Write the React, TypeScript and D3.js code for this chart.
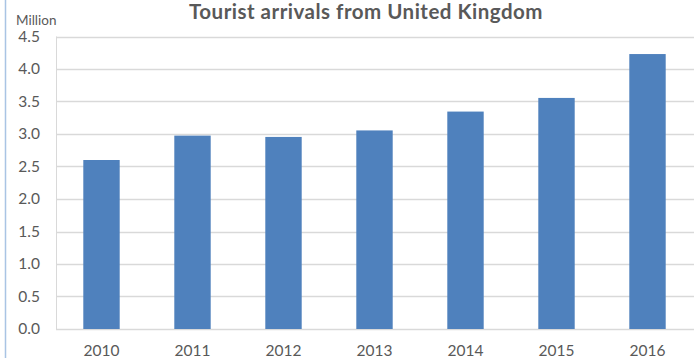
import React from "react";
import * as d3 from "d3";

const years = ["2010", "2011", "2012", "2013", "2014", "2015", "2016"];
const arrivals = [2.6, 2.975, 2.955, 3.055, 3.345, 3.555, 4.23];
const yTicks = [0, 0.5, 1, 1.5, 2, 2.5, 3, 3.5, 4, 4.5];
const title = "Tourist arrivals from United Kingdom";
const unitLabel = "Million";

const W = 694;
const H = 358;
const FONT = "Lato, 'Open Sans', sans-serif";

export default function App() {
  const x = d3.scaleBand<string>().domain(years).range([56, 693]).paddingInner(0.6).paddingOuter(0.3);
  const y = d3.scaleLinear().domain([0, 4.5]).range([329, 36.5]);
  const grid = "#d9d9d9";
  const txt = "#595959";
  return (
    <svg width={W} height={H} style={{ position: "absolute", left: 0, top: 0, background: "#fff" }}>
      <rect x={0} y={0} width={W} height={H} fill="#fff" />
      <line x1={5.5} x2={5.5} y1={0} y2={H} stroke="#a9c4e4" strokeWidth={1.5} />
      {yTicks.map((t) => (
        <g key={t}>
          <line x1={56} x2={W} y1={Math.round(y(t)) + 0.5} y2={Math.round(y(t)) + 0.5} stroke={grid} strokeWidth={1.5} />
          <text x={40} y={y(t)} dy="0.35em" textAnchor="end" fontFamily={FONT} fontSize={15.5} fill={txt}>
            {t.toFixed(1)}
          </text>
        </g>
      ))}
      <line x1={56.5} x2={56.5} y1={y(4.5)} y2={y(0)} stroke={grid} strokeWidth={1} />
      {years.map((yr, i) => (
        <g key={yr}>
          <rect
            x={x(yr)}
            y={y(arrivals[i])}
            width={x.bandwidth()}
            height={y(0) - y(arrivals[i])}
            fill="#4f81bd"
          />
          <text
            x={(x(yr) ?? 0) + x.bandwidth() / 2}
            y={355.5}
            textAnchor="middle"
            fontFamily={FONT}
            fontSize={15.5}
            fill={txt}
          >
            {yr}
          </text>
        </g>
      ))}
      <text x={16} y={25} fontFamily={FONT} fontSize={13.5} fill={txt}>
        {unitLabel}
      </text>
      <text x={366} y={19} textAnchor="middle" fontFamily={FONT} fontSize={20.5} fontWeight="bold" letterSpacing={0.5} fill={txt}>
        {title}
      </text>
    </svg>
  );
}
